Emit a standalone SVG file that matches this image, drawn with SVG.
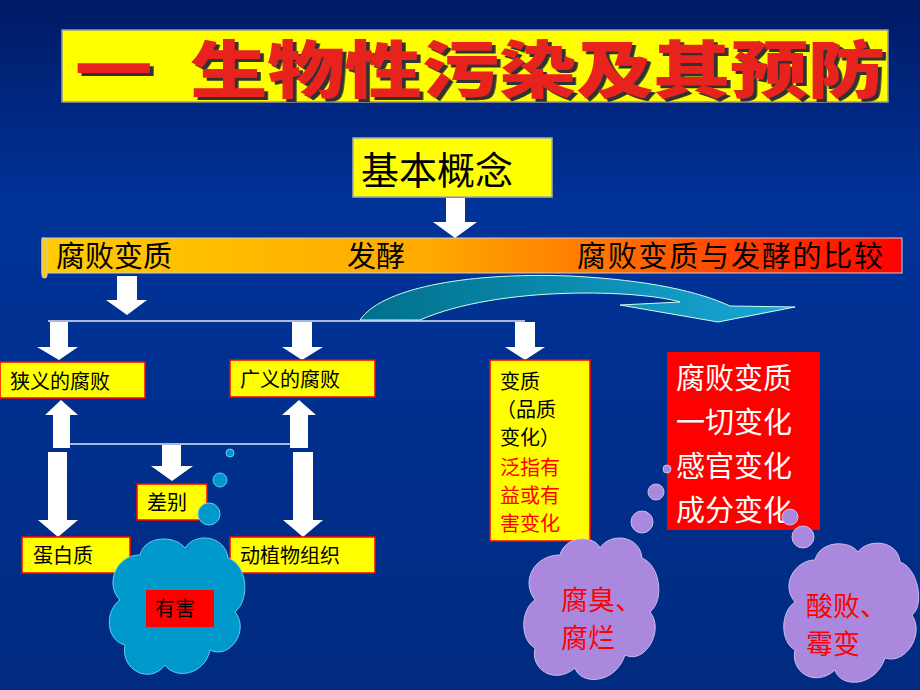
<svg xmlns="http://www.w3.org/2000/svg" width="920" height="690" viewBox="0 0 920 690">
<defs>
<linearGradient id="bg" x1="0" y1="0" x2="0" y2="1"><stop offset="0" stop-color="#001a66"/><stop offset="0.3" stop-color="#003399"/><stop offset="1" stop-color="#002b80"/></linearGradient>
<linearGradient id="scroll" x1="0" y1="0" x2="1" y2="0"><stop offset="0" stop-color="#ffcc00"/><stop offset="0.45" stop-color="#ffaa00"/><stop offset="0.65" stop-color="#ff7700"/><stop offset="1" stop-color="#ff0000"/></linearGradient>
<linearGradient id="teal" x1="0" y1="0" x2="1" y2="0"><stop offset="0" stop-color="#00708a"/><stop offset="1" stop-color="#19a8d8"/></linearGradient>
<filter id="sh" x="-5%" y="-20%" width="110%" height="140%"><feDropShadow dx="3" dy="3" stdDeviation="0.5" flood-color="#333"/></filter>
<style>
.t{font-family:"Noto Sans CJK SC","Liberation Sans",sans-serif}
.yb{fill:#ffff00;stroke:#ff0000;stroke-width:1.5}
.ar{fill:#ffffff}
.ln{stroke:#aab8e0;stroke-width:2;fill:none}
</style>
</defs>
<rect width="920" height="690" fill="url(#bg)"/>
<g id="title">
<rect x="62" y="30" width="826" height="72" fill="#ffff00" stroke="#999" stroke-width="1.5"/>
<g transform="scale(1.25,1)" filter="url(#sh)" class="t" font-size="62" font-weight="900" fill="#e8201a">
<text x="60" y="93">一</text>
<text x="152" y="93" textLength="556" lengthAdjust="spacing">生物性污染及其预防</text>
</g>
</g>
<g id="concept"><rect x="353" y="138" width="199" height="59" fill="#ffff00" stroke="#aaa" stroke-width="1.5"/><text x="361" y="184" class="t" font-size="38" fill="#000">基本概念</text></g>
<g id="scrollbar">
<rect x="42" y="238" width="860" height="35" fill="url(#scroll)" stroke="#ccd" stroke-width="1"/>
<rect x="42" y="238" width="5" height="40" rx="2.5" fill="#ffcc00" stroke="#ccd"/>
<text x="56" y="267" class="t" font-size="29" fill="#000">腐败变质</text>
<text x="347" y="267" class="t" font-size="29" fill="#000">发酵</text>
<text x="577" y="267" class="t" font-size="29" fill="#000" textLength="306">腐败变质与发酵的比较</text>
</g>
<g id="connectors">
<polygon class="ar" points="446,198 465,198 465,222 477,222 455,238 433,222 446,222"/>
<polygon class="ar" points="117,276 137,276 137,300 147,300 127,315 106,300 117,300"/>
<line class="ln" x1="48" y1="321" x2="525" y2="321"/>
<polygon class="ar" points="50,322 68,322 68,347 78,347 59,360 37,347 50,347"/>
<polygon class="ar" points="292,322 312,322 312,347 323,347 302,360 282,347 292,347"/>
<polygon class="ar" points="515,322 535,322 535,347 545,347 525,360 505,347 515,347"/>
<path d="M360,320 C380,290 460,272 570,276 C650,280 700,292 730,306 L795,307 L718,322 L620,305 L680,302 C640,290 500,285 420,320 Z" fill="url(#teal)" stroke="#cfe" stroke-width="1"/>
<line class="ln" x1="60" y1="444" x2="300" y2="444"/>
<polygon class="ar" points="53,448 70,448 70,415 78,415 61,400 45,415 53,415"/>
<polygon class="ar" points="290,448 308,448 308,415 316,415 299,400 282,415 290,415"/>
<polygon class="ar" points="162,445 181,445 181,466 193,466 172,481 151,466 162,466"/>
<polygon class="ar" points="48,452 67,452 67,520 78,520 58,537 38,520 48,520"/>
<polygon class="ar" points="293,452 313,452 313,520 323,520 303,537 283,520 293,520"/>
</g>
<g id="narrow"><rect class="yb" x="0" y="362" width="145" height="36"/><text x="10" y="389" class="t" font-size="20">狭义的腐败</text></g>
<g id="broad"><rect class="yb" x="230" y="360" width="145" height="37"/><text x="240" y="387" class="t" font-size="20">广义的腐败</text></g>
<g id="change"><rect class="yb" x="490" y="360" width="100" height="181"/>
<text class="t" font-size="20" fill="#000"><tspan x="500" y="389">变质</tspan><tspan x="496" y="417">（品质</tspan><tspan x="500" y="445">变化）</tspan></text>
<text class="t" font-size="20" fill="#ff0000"><tspan x="500" y="475">泛指有</tspan><tspan x="500" y="503">益或有</tspan><tspan x="500" y="531">害变化</tspan></text></g>
<g id="redbox"><rect x="667" y="352" width="153" height="178" fill="#ff0000"/>
<text class="t" font-size="29" fill="#fff"><tspan x="676" y="389">腐败变质</tspan><tspan x="676" y="433">一切变化</tspan><tspan x="676" y="477">感官变化</tspan><tspan x="676" y="521">成分变化</tspan></text></g>
<g id="diff"><rect class="yb" x="137" y="484" width="70" height="36"/><text x="147" y="510" class="t" font-size="20">差别</text></g>
<g id="protein"><rect class="yb" x="22" y="537" width="108" height="36"/><text x="33" y="563" class="t" font-size="20">蛋白质</text></g>
<g id="tissue"><rect class="yb" x="230" y="537" width="145" height="36"/><text x="240" y="563" class="t" font-size="20">动植物组织</text></g>
<g id="harm">
<g fill="#0099cc" stroke="#66ccee" stroke-width="1">
<circle cx="230" cy="453" r="4"/><circle cx="220" cy="480" r="7"/><circle cx="209" cy="514" r="11"/>
<path d="M140,555 C145,535 175,535 185,548 C195,532 225,535 228,558 C248,565 250,600 235,612 C250,630 230,660 210,650 C205,675 175,680 165,665 C150,685 120,670 125,645 C105,640 105,610 120,600 C105,585 115,555 140,555 Z"/>
</g>
<rect x="146" y="590" width="68" height="37" fill="#ff0000"/><text x="155" y="616" class="t" font-size="20">有害</text></g>
<g id="cloud1" fill="#aa88dd" stroke="#ccbbee" stroke-width="1">
<circle cx="667" cy="469" r="4"/><circle cx="656" cy="492" r="8"/><circle cx="642" cy="522" r="11"/>
<path d="M560,555 C565,535 595,535 600,548 C610,532 640,535 642,558 C660,565 665,600 650,612 C665,630 645,665 625,655 C615,685 580,685 575,668 C555,685 530,670 535,648 C520,640 520,610 535,600 C520,580 535,555 560,555 Z"/>
<text x="561" y="610" class="t" font-size="27" fill="#ff0000" stroke="none">腐臭、</text><text x="561" y="648" class="t" font-size="27" fill="#ff0000" stroke="none">腐烂</text></g>
<g id="cloud2" fill="#aa88dd" stroke="#ccbbee" stroke-width="1">
<circle cx="790" cy="517" r="8"/><circle cx="803" cy="537" r="11"/>
<path d="M815,560 C820,540 850,540 858,552 C868,538 898,540 900,562 C918,568 925,605 912,615 C925,635 905,665 885,658 C875,688 840,688 835,670 C815,688 790,672 795,650 C780,642 780,612 795,602 C780,585 795,560 815,560 Z"/>
<text x="806" y="616" class="t" font-size="27" fill="#ff0000" stroke="none">酸败、</text><text x="806" y="654" class="t" font-size="27" fill="#ff0000" stroke="none">霉变</text></g>
</svg>
